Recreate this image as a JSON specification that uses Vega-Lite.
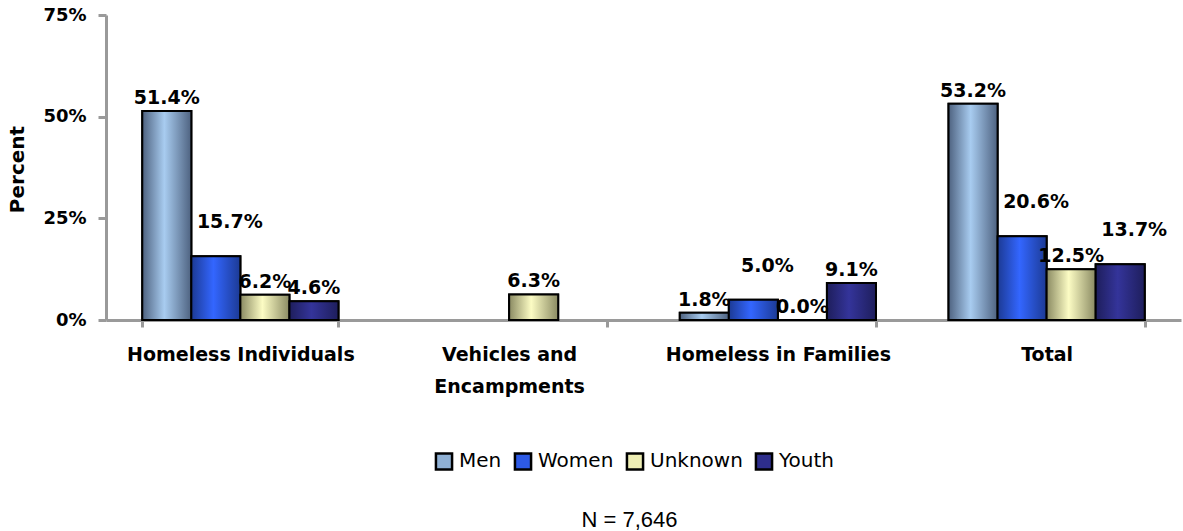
{
  "$schema": "https://vega.github.io/schema/vega-lite/v6.json",
  "width": 1075,
  "height": 305,
  "autosize": {"type": "none"},
  "padding": {"left": 106, "top": 15, "right": 2, "bottom": 211},
  "config": {"view": {"stroke": null}, "font": "DejaVu Sans"},
  "data": {
    "values": [
      {"category": "Homeless Individuals", "series": "Men", "value": 0.514},
      {"category": "Homeless Individuals", "series": "Women", "value": 0.157},
      {"category": "Homeless Individuals", "series": "Unknown", "value": 0.062},
      {"category": "Homeless Individuals", "series": "Youth", "value": 0.046},
      {"category": "Vehicles and Encampments", "series": "Unknown", "value": 0.063},
      {"category": "Homeless in Families", "series": "Men", "value": 0.018},
      {"category": "Homeless in Families", "series": "Women", "value": 0.050},
      {"category": "Homeless in Families", "series": "Unknown", "value": 0.0},
      {"category": "Homeless in Families", "series": "Youth", "value": 0.091},
      {"category": "Total", "series": "Men", "value": 0.532},
      {"category": "Total", "series": "Women", "value": 0.206},
      {"category": "Total", "series": "Unknown", "value": 0.125},
      {"category": "Total", "series": "Youth", "value": 0.137}
    ]
  },
  "encoding": {
    "x": {
      "field": "category",
      "type": "nominal",
      "sort": ["Homeless Individuals", "Vehicles and Encampments", "Homeless in Families", "Total"],
      "scale": {"paddingInner": 0.27, "paddingOuter": 0.135},
      "axis": {
        "labelAngle": 0,
        "labelLimit": 0,
        "labelExpr": "datum.label == 'Vehicles and Encampments' ? ['Vehicles and', 'Encampments'] : datum.label",
        "labelFontSize": 19,
        "labelFontWeight": "bold",
        "labelColor": "#000000",
        "labelPadding": 18,
        "labelLineHeight": 32,
        "tickBand": "extent",
        "tickColor": "#9a9a9a",
        "tickWidth": 3,
        "tickSize": 7,
        "domainColor": "#9a9a9a",
        "domainWidth": 3,
        "title": "N = 7,646",
        "titleFont": "Liberation Sans",
        "titleFontWeight": "normal",
        "titleFontSize": 22,
        "titleColor": "#000000",
        "titleX": 523,
        "titleY": 206,
        "titleBaseline": "alphabetic"
      }
    },
    "xOffset": {
      "field": "series",
      "type": "nominal",
      "sort": ["Men", "Women", "Unknown", "Youth"],
      "scale": {"domain": ["Men", "Women", "Unknown", "Youth"], "paddingInner": 0, "paddingOuter": 0}
    },
    "y": {
      "field": "value",
      "type": "quantitative",
      "scale": {"domain": [0, 0.75]},
      "axis": {
        "values": [0, 0.25, 0.5, 0.75],
        "format": ".0%",
        "grid": false,
        "labelFontSize": 18,
        "labelFontWeight": "bold",
        "labelColor": "#000000",
        "labelPadding": 12,
        "tickColor": "#9a9a9a",
        "tickWidth": 3,
        "tickSize": 8,
        "domainColor": "#9a9a9a",
        "domainWidth": 3,
        "title": "Percent",
        "titleFontSize": 20,
        "titleFontWeight": "bold",
        "titleColor": "#000000",
        "titleX": -83,
        "titleY": 154,
        "titleAngle": -90,
        "titleAlign": "center",
        "titleBaseline": "alphabetic"
      }
    }
  },
  "layer": [
    {
      "mark": {"type": "bar", "stroke": "#000000", "strokeWidth": 2},
      "encoding": {
        "fill": {
          "field": "series",
          "type": "nominal",
          "scale": {
            "domain": ["Men", "Women", "Unknown", "Youth"],
            "range": ["#8fb0d4", "#2d5ae6", "#eeeeb4", "#2e2e8c"]
          },
          "legend": {
            "title": null,
            "orient": "none",
            "direction": "horizontal",
            "legendX": 328,
            "legendY": 436,
            "symbolType": "square",
            "symbolSize": 260,
            "symbolStrokeColor": "#000000",
            "symbolStrokeWidth": 2.5,
            "labelFontSize": 20,
            "labelColor": "#000000",
            "labelOffset": 5,
            "columnPadding": 7
          }
        }
      }
    },
    {
      "transform": [{"filter": "datum.series == 'Men'"}],
      "mark": {"type": "bar", "stroke": "#000000", "strokeWidth": 2,
        "fill": {"gradient": "linear", "x1": 0, "y1": 0, "x2": 1, "y2": 0, "stops": [{"offset": 0, "color": "#4e6280"}, {"offset": 0.45, "color": "#a8ccf0"}, {"offset": 1, "color": "#4e6280"}]}}
    },
    {
      "transform": [{"filter": "datum.series == 'Women'"}],
      "mark": {"type": "bar", "stroke": "#000000", "strokeWidth": 2,
        "fill": {"gradient": "linear", "x1": 0, "y1": 0, "x2": 1, "y2": 0, "stops": [{"offset": 0, "color": "#1c3a94"}, {"offset": 0.45, "color": "#3366ff"}, {"offset": 1, "color": "#1c3a94"}]}}
    },
    {
      "transform": [{"filter": "datum.series == 'Unknown'"}],
      "mark": {"type": "bar", "stroke": "#000000", "strokeWidth": 2,
        "fill": {"gradient": "linear", "x1": 0, "y1": 0, "x2": 1, "y2": 0, "stops": [{"offset": 0, "color": "#8a8a62"}, {"offset": 0.45, "color": "#fcfcc4"}, {"offset": 1, "color": "#8a8a62"}]}}
    },
    {
      "transform": [{"filter": "datum.series == 'Youth'"}],
      "mark": {"type": "bar", "stroke": "#000000", "strokeWidth": 2,
        "fill": {"gradient": "linear", "x1": 0, "y1": 0, "x2": 1, "y2": 0, "stops": [{"offset": 0, "color": "#1e1e5c"}, {"offset": 0.45, "color": "#34349a"}, {"offset": 1, "color": "#1e1e5c"}]}}
    },
    {
      "transform": [{"filter": "!(datum.series == 'Women' || (datum.series == 'Youth' && datum.value > 0.1))"}],
      "mark": {"type": "text", "dy": -7, "baseline": "alphabetic", "fontWeight": "bold", "fontSize": 19, "color": "#000000"},
      "encoding": {
        "text": {"field": "value", "type": "quantitative", "format": ".1%"}
      }
    },
    {
      "transform": [{"filter": "datum.series == 'Women' || (datum.series == 'Youth' && datum.value > 0.1)"}],
      "mark": {"type": "text", "dy": -28, "dx": 14, "baseline": "alphabetic", "fontWeight": "bold", "fontSize": 19, "color": "#000000"},
      "encoding": {
        "text": {"field": "value", "type": "quantitative", "format": ".1%"}
      }
    }
  ]
}
